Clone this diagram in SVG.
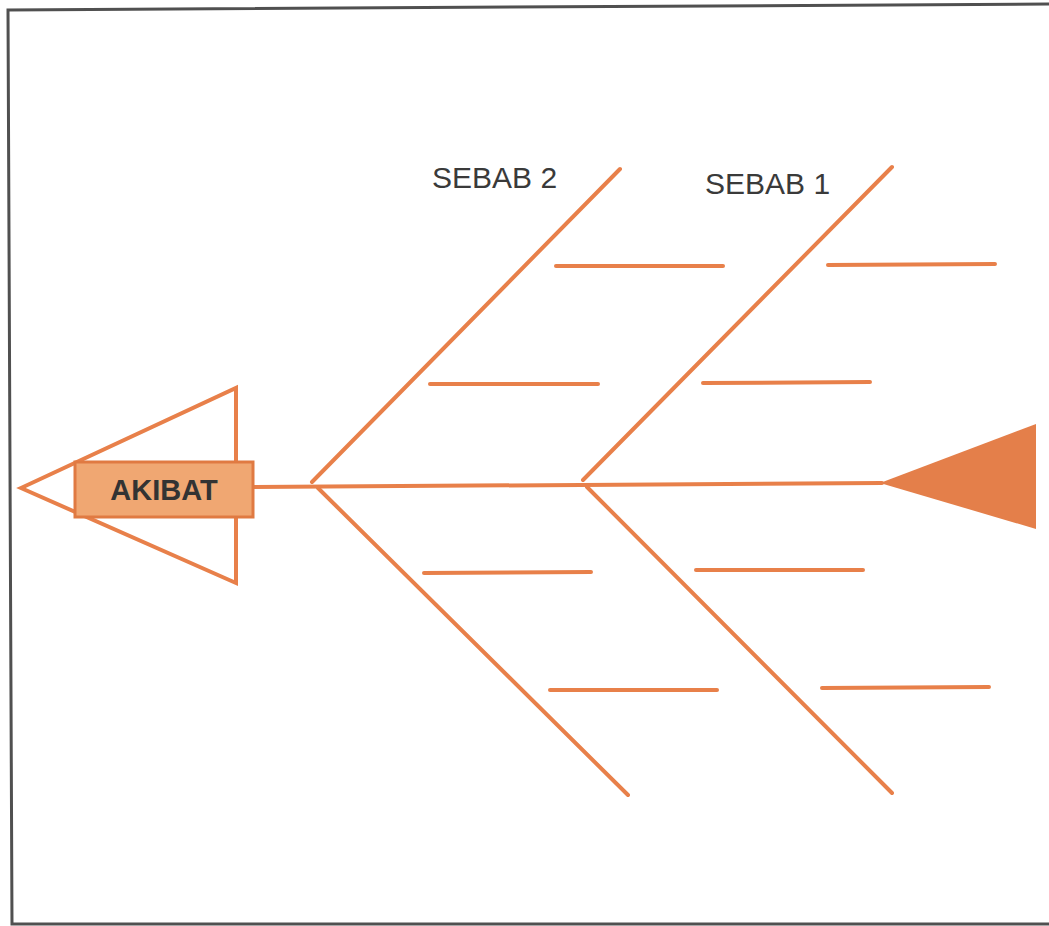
<svg xmlns="http://www.w3.org/2000/svg" width="1049" height="926" viewBox="0 0 1049 926">
<style>
.bone{stroke:#e8804a;stroke-width:4;fill:none;stroke-linecap:round}
.lbl{font-family:"Liberation Sans",Arial,sans-serif;font-size:30px;fill:#3a3a3a}
</style>
<rect width="1049" height="926" fill="#ffffff"/>
<path d="M1049,4 L8,10 L12,924 L1049,924" fill="none" stroke="#505050" stroke-width="3"/>
<g id="connectors">
<line class="bone" x1="253" y1="487" x2="882" y2="483"/>
<line class="bone" x1="312" y1="482" x2="620" y2="169"/>
<line class="bone" x1="318" y1="488" x2="628" y2="795"/>
<line class="bone" x1="583" y1="480" x2="892" y2="167"/>
<line class="bone" x1="587" y1="487" x2="892" y2="793"/>
<line class="bone" x1="556" y1="266" x2="723" y2="266"/>
<line class="bone" x1="430" y1="384" x2="598" y2="384"/>
<line class="bone" x1="828" y1="265" x2="995" y2="264"/>
<line class="bone" x1="703" y1="383" x2="870" y2="382"/>
<line class="bone" x1="424" y1="573" x2="591" y2="572"/>
<line class="bone" x1="696" y1="570" x2="863" y2="570"/>
<line class="bone" x1="550" y1="690" x2="717" y2="690"/>
<line class="bone" x1="822" y1="688" x2="989" y2="687"/>
</g>
<g id="head">
<polygon points="21,488 236,388 236,583" fill="none" stroke="#e8804a" stroke-width="4" stroke-linejoin="miter"/>
</g>
<g id="akibat">
<rect x="75" y="462" width="178" height="55" fill="#f0a772" stroke="#e07a42" stroke-width="3"/>
<text x="164" y="500" text-anchor="middle" font-family="Liberation Sans,Arial,sans-serif" font-weight="bold" font-size="29" fill="#333333">AKIBAT</text>
</g>
<g id="tail">
<polygon points="880,483 1036,424 1036,529" fill="#e47f4a"/>
</g>
<g id="sebab2"><text class="lbl" x="432" y="188">SEBAB 2</text></g>
<g id="sebab1"><text class="lbl" x="705" y="194">SEBAB 1</text></g>
</svg>
